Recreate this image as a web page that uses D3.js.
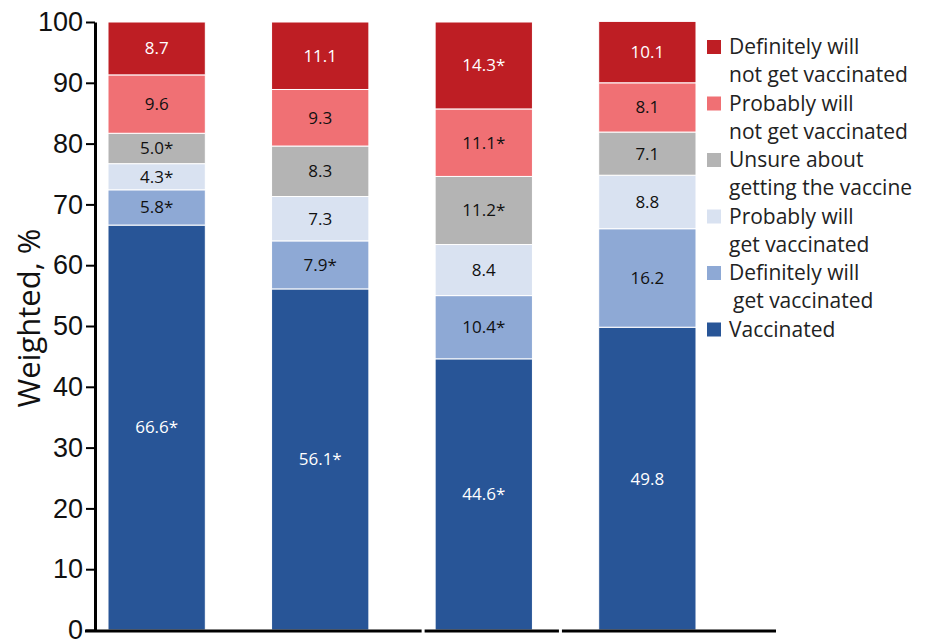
<!DOCTYPE html>
<html>
<head>
<meta charset="UTF-8">
<title>Vaccination intent</title>
<script src="https://d3js.org/d3.v7.min.js"></script>
<style type="text/css">
  body { margin: 0; background: #fff; }
  svg { display: block; }
  .axis text { font-family: "Liberation Sans", Arial, sans-serif; font-size: 27px; fill: #111; }
  .axis path, .axis line { stroke: #000; }
  .seg-label { font-family: "Open Sans", sans-serif; font-size: 17px; text-anchor: middle; }
  .legend text { font-family: "Open Sans", sans-serif; font-size: 21px; fill: #222; }
  .ytitle { font-family: "Open Sans", sans-serif; font-size: 31px; fill: #111; text-anchor: middle; }
</style>
</head>
<body>
<script type="text/javascript">
// groups along the x axis (their labels are cropped out of the picture)
const groups = ["Group 1", "Group 2", "Group 3", "Group 4"];

// series, bottom to top
const seriesNames = [
  "Vaccinated",
  "Definitely will get vaccinated",
  "Probably will get vaccinated",
  "Unsure about getting the vaccine",
  "Probably will not get vaccinated",
  "Definitely will not get vaccinated"
];

// weighted % per series, one value per group
const vaccinated      = [66.6, 56.1, 44.6, 49.8];
const definitelyWill  = [5.8, 7.9, 10.4, 16.2];
const probablyWill    = [4.3, 7.3, 8.4, 8.8];
const unsure          = [5.0, 8.3, 11.2, 7.1];
const probablyNot     = [9.6, 9.3, 11.1, 8.1];
const definitelyNot   = [8.7, 11.1, 14.3, 10.1];

// asterisk = significant difference
const vaccinatedSig     = [true, true, true, false];
const definitelyWillSig = [true, true, true, false];
const probablyWillSig   = [true, false, false, false];
const unsureSig         = [true, false, true, false];
const probablyNotSig    = [false, false, true, false];
const definitelyNotSig  = [false, false, true, false];

// legend lines (top to bottom)
const legendLines = [
  ["Definitely will", "not get vaccinated"],
  ["Probably will", "not get vaccinated"],
  ["Unsure about", "getting the vaccine"],
  ["Probably will", "get vaccinated"],
  ["Definitely will", "get vaccinated"],
  ["Vaccinated"]
];

const yTicks = [0, 10, 20, 30, 40, 50, 60, 70, 80, 90, 100];

const colors = ["#285597", "#8EA9D5", "#D9E2F1", "#B4B4B4", "#F07074", "#BE1E24"];
const labelColors = ["#fff", "#111", "#111", "#111", "#111", "#fff"];

const seriesValues = [vaccinated, definitelyWill, probablyWill, unsure, probablyNot, definitelyNot];
const seriesSig = [vaccinatedSig, definitelyWillSig, probablyWillSig, unsureSig, probablyNotSig, definitelyNotSig];

// table for d3.stack
const table = groups.map((g, i) => {
  const row = { group: g };
  seriesNames.forEach((s, k) => { row[s] = seriesValues[k][i]; });
  return row;
});

const W = 931, H = 639;
const svg = d3.select('body').append('svg')
  .attr('width', W)
  .attr('height', H);

const y = d3.scaleLinear().domain([0, 100]).range([630, 22]);
const x = d3.scaleBand().domain(groups).range([108, 696]).paddingInner(0.405).paddingOuter(0);

const stacked = d3.stack().keys(seriesNames)(table);

// bars
const layers = svg.append('g').selectAll('g')
  .data(stacked)
  .join('g')
  .attr('fill', (d, k) => colors[k]);

layers.selectAll('rect')
  .data(d => d)
  .join('rect')
  .attr('x', d => x(d.data.group))
  .attr('width', x.bandwidth())
  .attr('y', d => y(d[1]))
  .attr('height', d => y(d[0]) - y(d[1]))
  .attr('stroke', '#fff')
  .attr('stroke-width', 1);

// segment labels
stacked.forEach((layer, k) => {
  svg.append('g').selectAll('text')
    .data(layer)
    .join('text')
    .attr('class', 'seg-label')
    .attr('x', d => x(d.data.group) + x.bandwidth() / 2)
    .attr('y', d => (y(d[0]) + y(d[1])) / 2)
    .attr('dy', '0.35em')
    .attr('fill', labelColors[k])
    .text((d, i) => seriesValues[k][i].toFixed(1) + (seriesSig[k][i] ? '*' : ''));
});

// y axis
const yAxis = svg.append('g')
  .attr('class', 'axis')
  .attr('transform', 'translate(95,0)')
  .call(d3.axisLeft(y).tickValues(yTicks).tickSize(9).tickPadding(3).tickSizeOuter(0));
yAxis.select('.domain').attr('stroke-width', 3);
yAxis.selectAll('.tick line').attr('stroke-width', 2);

// x axis, drawn in three pieces like the source
const xL = 85, xR = 776;
const gap1 = x(groups[2]) - 12;
const gap2 = x(groups[2]) + x.bandwidth() + 28;
[[xL, gap1 - 1.5], [gap1 + 1.5, gap2 - 1.5], [gap2 + 1.5, xR]].forEach(p => {
  svg.append('line')
    .attr('x1', p[0]).attr('x2', p[1])
    .attr('y1', y(0) + 1).attr('y2', y(0) + 1)
    .attr('stroke', '#000')
    .attr('stroke-width', 3);
});

// y axis title
svg.append('text')
  .attr('class', 'ytitle')
  .attr('transform', 'translate(40,318) rotate(-90)')
  .text('Weighted, %');

// legend
const legend = svg.append('g').attr('class', 'legend').attr('transform', 'translate(707,37)');
legendLines.forEach((lines, j) => {
  const k = seriesNames.length - 1 - j;
  const g = legend.append('g').attr('transform', 'translate(0,' + (j * 56.5) + ')');
  g.append('rect')
    .attr('width', 14).attr('height', 14)
    .attr('y', 3)
    .attr('fill', colors[k]);
  lines.forEach((t, li) => {
    g.append('text')
      .attr('x', li === 0 ? 22 : (k === 1 ? 26 : 22))
      .attr('y', 17 + li * 28)
      .text(t);
  });
});
</script>
</body>
</html>
